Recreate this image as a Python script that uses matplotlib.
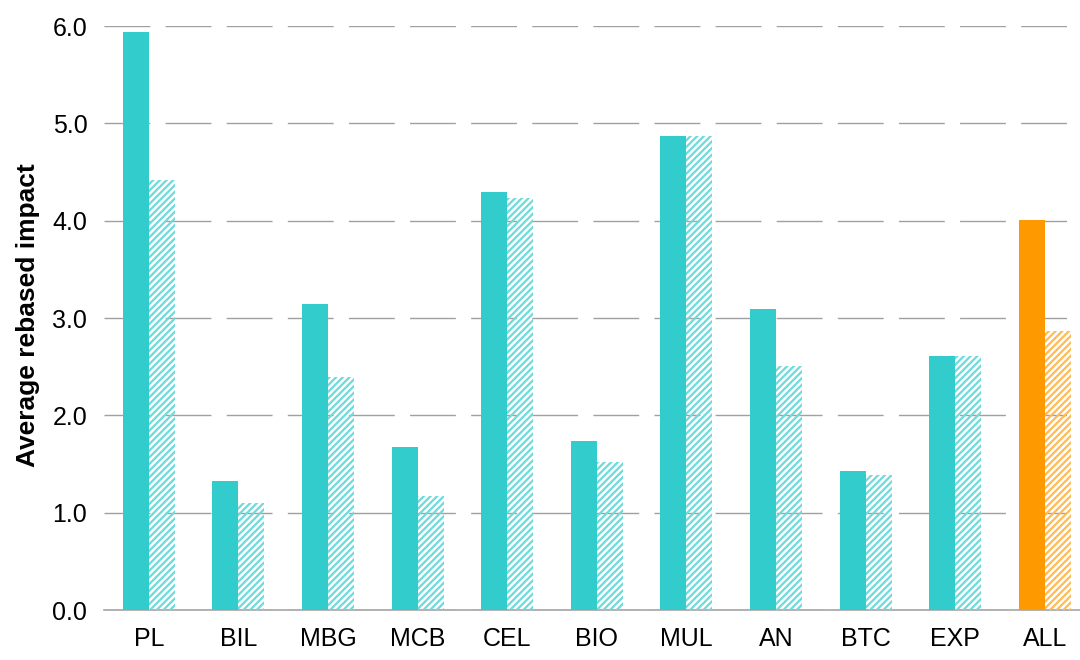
import matplotlib
matplotlib.use("Agg")
import matplotlib.pyplot as plt
import numpy as np

categories = ["PL", "BIL", "MBG", "MCB", "CEL", "BIO", "MUL", "AN", "BTC", "EXP", "ALL"]
solid_values = [5.94, 1.33, 3.14, 1.67, 4.29, 1.74, 4.87, 3.09, 1.43, 2.61, 4.01]
hatched_values = [4.42, 1.10, 2.39, 1.17, 4.23, 1.52, 4.87, 2.51, 1.39, 2.61, 2.87]
y_ticks = [0.0, 1.0, 2.0, 3.0, 4.0, 5.0, 6.0]
y_label = "Average rebased impact"

teal = "#33CCCC"
teal_light = "#6FDADA"
orange = "#FF9900"
orange_light = "#FFBB55"

plt.rcParams["font.family"] = ["Liberation Sans", "DejaVu Sans"]
plt.rcParams["hatch.linewidth"] = 1.6

fig = plt.figure(figsize=(10.8, 6.6), dpi=100)
ax = fig.add_axes([104 / 1080, 50 / 660, 976 / 1080, 584 / 660])

x = np.arange(len(categories))
w = 0.29
solid_colors = [teal] * (len(categories) - 1) + [orange]
hatch_colors = [teal_light] * (len(categories) - 1) + [orange_light]

ax.bar(x - w / 2, solid_values, width=w, color=solid_colors, linewidth=0, zorder=3)
for xi, v, c in zip(x, hatched_values, hatch_colors):
    ax.bar(xi + w / 2, v, width=w, facecolor="none", edgecolor=c, hatch="/////",
           linewidth=0, zorder=3)

ax.set_xlim(-0.5, -0.5 + 976 / 89.6)
ax.set_ylim(0, 6.0)
ax.set_yticks(y_ticks)
ax.set_yticklabels([f"{t:.1f}" for t in y_ticks])
ax.set_xticks(x)
ax.set_xticklabels(categories)
ax.tick_params(axis="both", length=0, labelsize=18, colors="black")
ax.tick_params(axis="y", pad=12)
ax.tick_params(axis="x", pad=12)

ax.yaxis.grid(True, color="#A0A0A0", linewidth=1.0, linestyle=(0, (33, 11)), zorder=0)
ax.set_axisbelow(True)
for s in ["top", "right", "left"]:
    ax.spines[s].set_visible(False)
ax.spines["bottom"].set_color("#A6A6A6")
ax.spines["bottom"].set_linewidth(1.2)

ax.set_ylabel(y_label, fontsize=19, fontweight="bold")
ax.yaxis.set_label_coords(-0.066, 0.505)

fig.savefig("out.png", dpi=100)
